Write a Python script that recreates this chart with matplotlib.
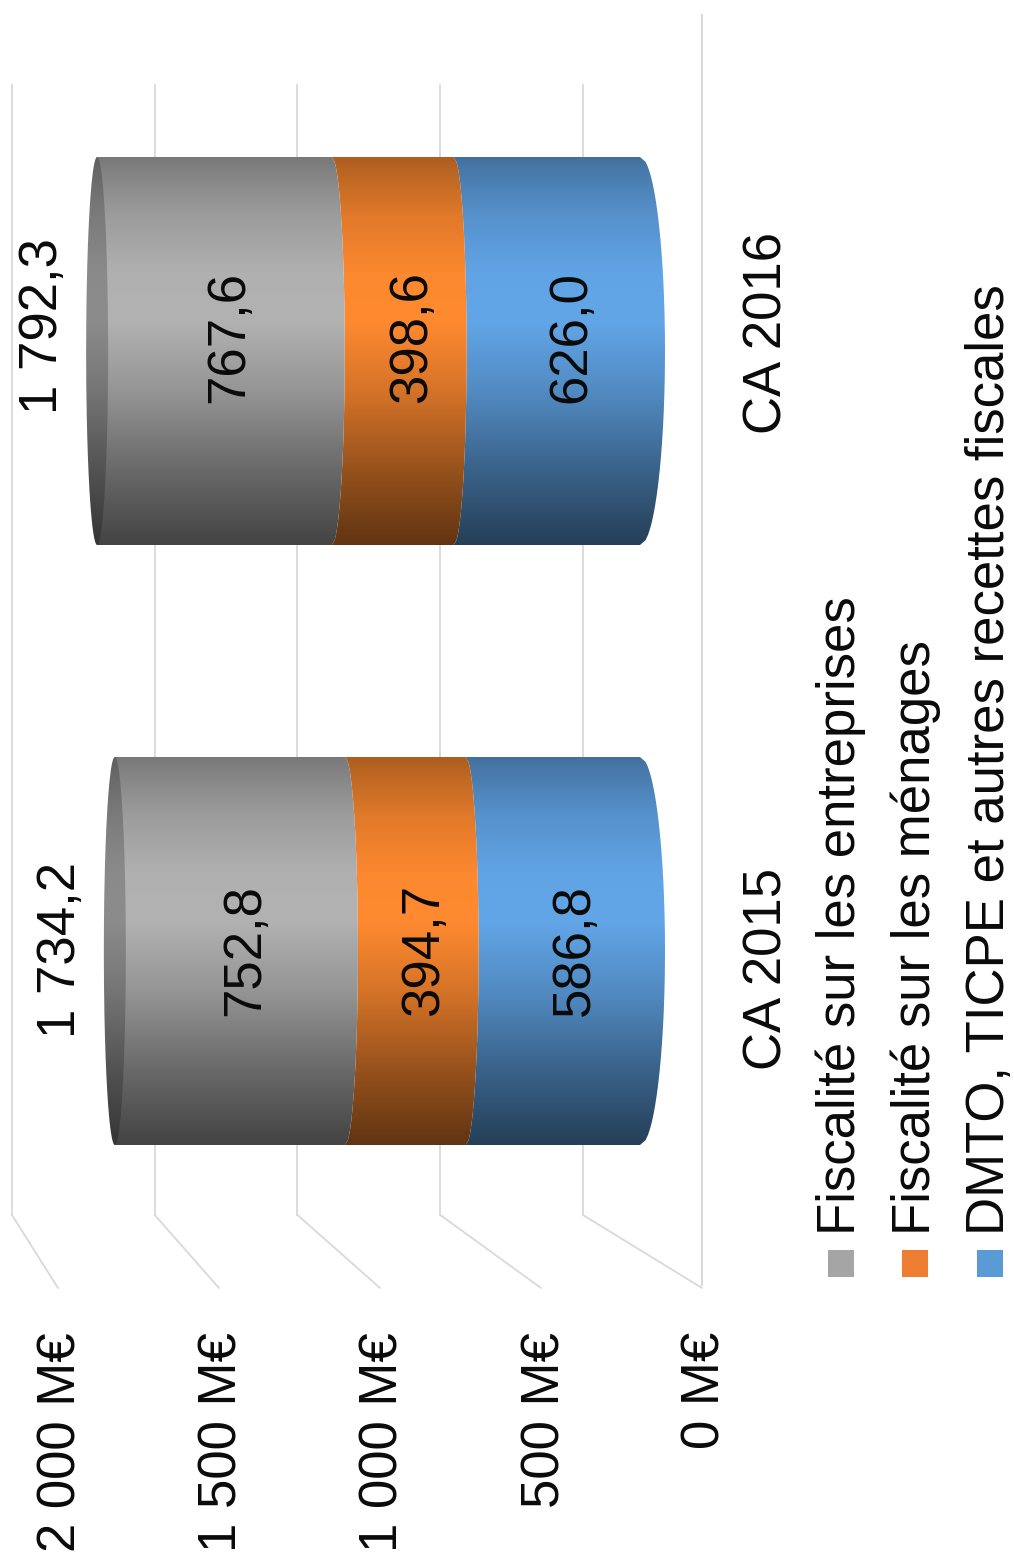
import numpy as np
import matplotlib
matplotlib.use('Agg')
import matplotlib.pyplot as plt
from matplotlib.patches import ConnectionPatch, PathPatch, Rectangle
from matplotlib.path import Path

plt.rcParams['font.family'] = ['Liberation Sans', 'DejaVu Sans']

years = ["CA 2015", "CA 2016"]
series = ["Fiscalité sur les entreprises", "Fiscalité sur les ménages",
          "DMTO, TICPE et autres recettes fiscales"]
dmto = [586.8, 626.0]
menages = [394.7, 398.6]
entreprises = [752.8, 767.6]
totals = ["1 734,2", "1 792,3"]
ticks = [0, 500, 1000, 1500, 2000]
tick_labels = ["0 M€", "500 M€", "1 000 M€", "1 500 M€", "2 000 M€"]

W, H = 1014, 1559
GRAY = "#b2b2b2"
ORANGE = "#ff8a30"
BLUE = "#62a6e8"
GRID = "#d9d9d9"
INK = "#0a0a0a"
FS = 38

fig = plt.figure(figsize=(W / 100, H / 100), dpi=100, facecolor="white")


def value_axes(x0, scale):
    # the chart is turned a quarter left: values grow towards the left edge
    ax = fig.add_axes([0, 0, 1, 1])
    ax.set_xlim(x0 / scale, (x0 - W) / scale)
    ax.set_ylim(H, 0)
    ax.axis("off")
    ax.patch.set_alpha(0)
    return ax


ax_back = value_axes(583, 0.2855)
ax_front = value_axes(702, 0.322)
ax = value_axes(645, 0.3057)
SCALE = 0.3057

# back wall and floor
for v in ticks:
    ax_back.plot([v, v], [85, 1215], color=GRID, lw=1.3)
    fig.add_artist(ConnectionPatch((v, 1215), (v, 1288),
                                   coordsA=ax_back.transData,
                                   coordsB=ax_front.transData,
                                   color=GRID, lw=1.3))
ax_front.plot([0, 0], [15, 1285], color=GRID, lw=1.5)

for v, lab in zip(ticks, tick_labels):
    ax_front.text(v - 4 / 0.322, 1332, lab, rotation=90, ha="center", va="top",
                  fontsize=FS, color=INK)

shade_t = [0, 0.04, 0.15, 0.3, 0.42, 0.6, 0.8, 1]
shade_k = [0.68, 0.74, 0.88, 0.99, 1.0, 0.84, 0.6, 0.38]


def gradient(color, n=200):
    rgb = np.array(matplotlib.colors.to_rgb(color))
    k = np.interp(np.linspace(0, 1, n), shade_t, shade_k)
    return (k[:, None] * rgb)[:, None, :]


def edge(v, yc, r, bulge, px_off=0.0, n=80):
    # curved rim of a slice, seen from the side
    y = np.linspace(yc - r, yc + r, n)
    s = np.sqrt(1 - ((y - yc) / r) ** 2)
    return v - (px_off + bulge * s) / SCALE, y


R = 194
centers = [951, 351]

for i, yc in enumerate(centers):
    stops = [0, dmto[i], dmto[i] + menages[i],
             dmto[i] + menages[i] + entreprises[i]]
    cols = [BLUE, ORANGE, GRAY]
    for j in range(3):
        if j == 0:
            lo_x, lo_y = edge(stops[0], yc, R, 25, px_off=-5)
        else:
            lo_x, lo_y = edge(stops[j], yc, R, 13)
        hi_x, hi_y = edge(stops[j + 1], yc, R, 13 if j < 2 else 0)
        verts = np.vstack([np.c_[lo_x, lo_y], np.c_[hi_x, hi_y][::-1], [lo_x[0], lo_y[0]]])
        clip = PathPatch(Path(verts), transform=ax.transData, fc="none", ec="none")
        ax.add_patch(clip)
        im = ax.imshow(gradient(cols[j]), aspect="auto", origin="upper",
                       extent=(stops[j + 1] + 200, stops[j] - 200, yc + R, yc - R),
                       interpolation="bilinear", zorder=2 + j)
        im.set_clip_path(clip)
    # top of the cylinder
    t = np.linspace(0, 2 * np.pi, 160)
    top = stops[3] - (11 / SCALE) * np.cos(t)
    top_y = yc + R * np.sin(t)
    clip = PathPatch(Path(np.c_[top, top_y]), transform=ax.transData, fc="none", ec="none")
    ax.add_patch(clip)
    im = ax.imshow(gradient("#8c8c8c"), aspect="auto", origin="upper",
                   extent=(stops[3] + 100, stops[3] - 100, yc + R, yc - R),
                   interpolation="bilinear", zorder=6)
    im.set_clip_path(clip)
    ax.set_xlim(645 / SCALE, (645 - W) / SCALE)
    ax.set_ylim(H, 0)

label_x = [[575, 424, 245], [571, 412, 229]]
total_x = [61, 43]
vals = [dmto, menages, entreprises]
for i, yc in enumerate(centers):
    ty = yc - 1 if i == 0 else yc - 14
    for j in range(3):
        ax.text((645 - label_x[i][j]) / SCALE, ty, f"{vals[j][i]:.1f}".replace(".", ","),
                rotation=90, ha="center", va="center", fontsize=FS, color=INK, zorder=10)
    ax.text((645 - total_x[i]) / SCALE, [950, 326][i], totals[i],
            rotation=90, ha="center", va="center", fontsize=FS, color=INK, zorder=10)
    ax.text((645 - 767) / SCALE, [969, 333][i], years[i], rotation=90, ha="center",
            va="center", fontsize=FS, color=INK, zorder=10)

# legend
leg_x = [841, 915, 990]
leg_text_x = [841, 916, 990]
leg_cols = ["#a5a5a5", "#ed7d31", "#5b9bd5"]
for name, x, tx, c in zip(series, leg_x, leg_text_x, leg_cols):
    ax_back.text((583 - tx) / 0.2855, 1235, name, rotation=90, ha="center", va="bottom",
                 fontsize=38, color=INK)
    ax_back.add_patch(Rectangle(((583 - x - 13) / 0.2855, 1250), 26 / 0.2855, 27, fc=c, ec="none"))

fig.savefig("out.png", dpi=100)
